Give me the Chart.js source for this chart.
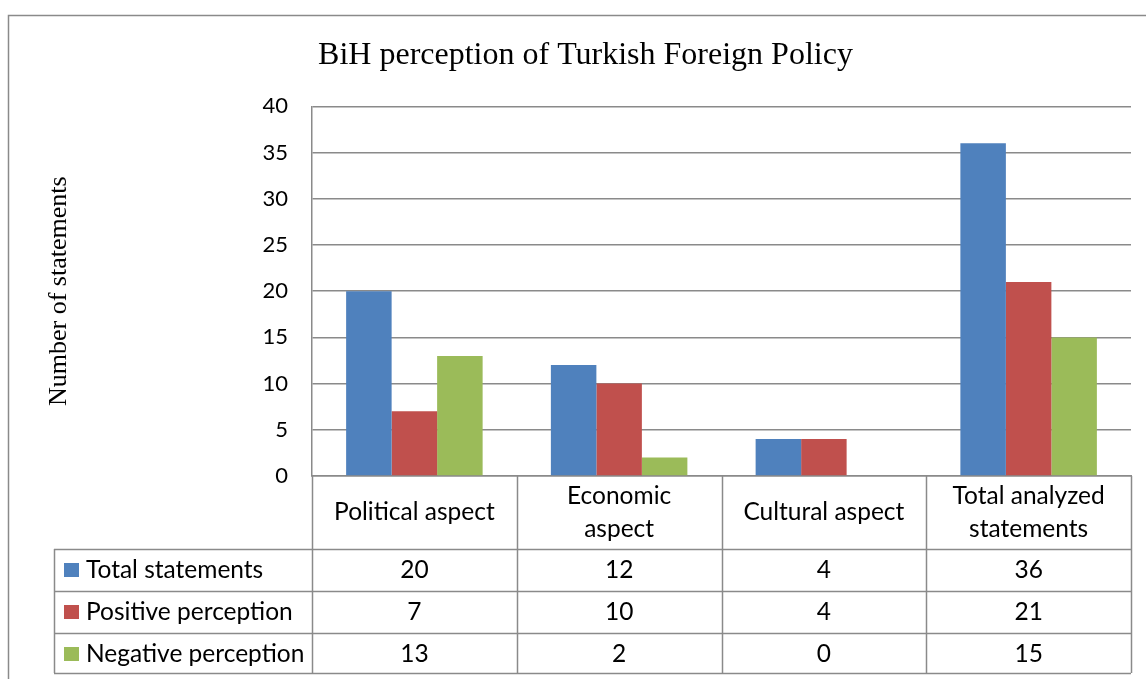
<!DOCTYPE html>
<html>
<head>
<meta charset="utf-8">
<script src="https://cdn.jsdelivr.net/npm/chart.js@4.4.1/dist/chart.umd.min.js"></script>
<style>
  html, body { margin: 0; padding: 0; background: #fff; }
  #wrap { width: 1146px; height: 679px; }
</style>
</head>
<body>
<div id="wrap"><canvas id="chart"></canvas></div>
<script>
// chart data
var categories = [['Political aspect'], ['Economic', 'aspect'], ['Cultural aspect'], ['Total analyzed', 'statements']];
var seriesNames = ['Total statements', 'Positive perception', 'Negative perception'];
var totalStatements = [20, 12, 4, 36];
var positivePerception = [7, 10, 4, 21];
var negativePerception = [13, 2, 0, 15];
var seriesColors = ['#4F81BD', '#C0504D', '#9BBB59'];

var lineGray = '#8a8a8a';
var sansFont = 'Lato, Carlito, Calibri, sans-serif';
var serifFont = '"Liberation Serif", "Times New Roman", serif';

// outer frame of the chart object
var framePlugin = {
    id: 'frame',
    beforeDraw: function(chart) {
        var ctx = chart.ctx;
        ctx.save();
        ctx.strokeStyle = lineGray;
        ctx.lineWidth = 1.5;
        ctx.strokeRect(8.5, 15.5, 1300, 800);
        ctx.restore();
    }
};

// data table under the plot, columns taken from the x scale
var dataTablePlugin = {
    id: 'dataTable',
    afterDraw: function(chart) {
        var ctx = chart.ctx;
        var x = chart.scales.x;
        var area = chart.chartArea;
        var n = chart.data.labels.length;
        var colW = (area.right - area.left) / n;
        var tableLeft = 54;
        var headerTop = area.bottom;
        var rowTops = [549, 591, 633];
        var tableBottom = 673;
        var rowH = 42;

        ctx.save();
        ctx.strokeStyle = lineGray;
        ctx.lineWidth = 1.5;

        // vertical lines
        ctx.beginPath();
        for (var i = 0; i <= n; i++) {
            var vx = Math.round(area.left + i * colW) + 0.5;
            ctx.moveTo(vx, headerTop);
            ctx.lineTo(vx, tableBottom);
        }
        ctx.moveTo(tableLeft + 0.5, rowTops[0]);
        ctx.lineTo(tableLeft + 0.5, tableBottom);
        // horizontal lines
        rowTops.concat([tableBottom]).forEach(function(y) {
            ctx.moveTo(tableLeft, y + 0.5);
            ctx.lineTo(area.right, y + 0.5);
        });
        ctx.stroke();

        ctx.fillStyle = '#000';
        ctx.textAlign = 'center';
        ctx.textBaseline = 'middle';
        ctx.font = '24.5px ' + sansFont;

        // header with category names
        chart.data.labels.forEach(function(lab, i) {
            var cx = x.getPixelForTick(i);
            var cy = (headerTop + rowTops[0]) / 2;
            var lh = 33;
            var y0 = cy - (lab.length - 1) * lh / 2;
            lab.forEach(function(line, k) {
                ctx.fillText(line, cx, y0 + k * lh);
            });
        });

        // series rows
        chart.data.datasets.forEach(function(ds, r) {
            var cy = rowTops[r] + rowH / 2;
            ctx.fillStyle = ds.backgroundColor;
            ctx.fillRect(64, cy - 7, 15, 14);
            ctx.fillStyle = '#000';
            ctx.textAlign = 'left';
            ctx.fillText(ds.label, 86, cy);
            ctx.textAlign = 'center';
            ds.data.forEach(function(v, i) {
                ctx.fillText(String(v), x.getPixelForTick(i), cy);
            });
        });
        ctx.restore();
    }
};

new Chart(document.getElementById('chart'), {
    type: 'bar',
    data: {
        labels: categories,
        datasets: [
            { label: seriesNames[0], data: totalStatements, backgroundColor: seriesColors[0] },
            { label: seriesNames[1], data: positivePerception, backgroundColor: seriesColors[1] },
            { label: seriesNames[2], data: negativePerception, backgroundColor: seriesColors[2] }
        ]
    },
    options: {
        responsive: true,
        maintainAspectRatio: false,
        animation: false,
        layout: { padding: { left: 40, right: 15, top: 0, bottom: 203 } },
        datasets: {
            bar: { categoryPercentage: 3 / 4.5, barPercentage: 1 }
        },
        plugins: {
            legend: { display: false },
            tooltip: { enabled: false },
            title: {
                display: true,
                text: 'BiH perception of Turkish Foreign Policy',
                color: '#000',
                font: { family: serifFont, size: 32, weight: 'normal' },
                padding: { top: 36, bottom: 32 }
            }
        },
        scales: {
            x: {
                ticks: { display: false },
                grid: { display: false, drawTicks: false },
                border: { display: true, color: lineGray, width: 1.5 },
                afterFit: function(scale) { scale.height = 0; }
            },
            y: {
                min: 0,
                max: 40,
                ticks: {
                    stepSize: 5,
                    padding: 24,
                    color: '#000',
                    font: { family: sansFont, size: 22 }
                },
                grid: { color: lineGray, lineWidth: 1.5, drawTicks: false },
                border: { display: true, color: lineGray, width: 1.5 },
                title: {
                    display: true,
                    text: 'Number of statements',
                    color: '#000',
                    font: { family: serifFont, size: 26, weight: 'normal' },
                    padding: { top: 4, bottom: 0 }
                },
                afterFit: function(scale) { scale.width = 272; }
            }
        }
    },
    plugins: [framePlugin, dataTablePlugin]
});
</script>
</body>
</html>
